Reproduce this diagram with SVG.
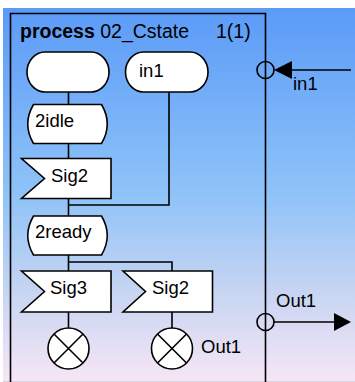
<svg xmlns="http://www.w3.org/2000/svg" width="355" height="382" viewBox="0 0 355 382">
<defs>
<linearGradient id="bg" x1="0" y1="0" x2="0" y2="1">
<stop offset="0" stop-color="#5b9bf8"/>
<stop offset="0.5" stop-color="#8fc3f8"/>
<stop offset="0.75" stop-color="#c5d4f2"/>
<stop offset="1" stop-color="#f7e6f5"/>
</linearGradient>
<style>
.s{fill:#fff;stroke:#000;stroke-width:1.6}
.l{fill:none;stroke:#000;stroke-width:1.6}
.t{font-family:"Liberation Sans",Arial,sans-serif;font-size:18.5px;fill:#000}
.h{font-size:19.5px}
.b{font-weight:bold}
.a{fill:#000;stroke:none}
</style>
</defs>
<rect x="0" y="0" width="355" height="382" fill="#fff"/>
<rect x="3" y="8" width="352" height="374" fill="url(#bg)"/>
<line x1="3" y1="381.5" x2="355" y2="381.5" stroke="#d4d4dc" stroke-width="1"/>
<g id="frame">
<path class="l" d="M10.5,382 V13.5 H265.5 V382"/>
<text class="t h" x="20" y="38"><tspan class="b">process</tspan> 02_Cstate</text>
<text class="t h" x="216" y="38">1(1)</text>
</g>
<g id="connectors">
<path class="l" d="M68.5,92 V104.5 M68.5,143.5 V158.5 M68.5,198.5 V216 M169,92 V205 H68.5 M68.5,255 V271 M68.5,262 H172 V271 M68.5,312 V328 M172,312 V328"/>
</g>
<g id="start">
<rect class="s" x="27" y="52" width="82" height="40" rx="18" ry="20"/>
</g>
<g id="in1_start">
<rect class="s" x="125.5" y="52" width="82.5" height="40" rx="18" ry="20"/>
<text class="t" x="139" y="77">in1</text>
</g>
<g id="state_2idle">
<path class="s" d="M33.5,104.5 H101.5 Q113,124 101.5,143.5 H33.5 Q22,124 33.5,104.5 Z"/>
<text class="t" x="35" y="127">2idle</text>
</g>
<g id="input_sig2_a">
<polygon class="s" points="21.5,158.5 111,158.5 111,198.5 21.5,198.5 44.5,178.5"/>
<text class="t" x="51" y="182">Sig2</text>
</g>
<g id="state_2ready">
<path class="s" d="M33.5,216 H101.5 Q113,235.5 101.5,255 H33.5 Q22,235.5 33.5,216 Z"/>
<text class="t" x="35" y="238">2ready</text>
</g>
<g id="input_sig3">
<polygon class="s" points="21.5,271 111,271 111,312 21.5,312 44.5,291.5"/>
<text class="t" x="50" y="294">Sig3</text>
</g>
<g id="input_sig2_b">
<polygon class="s" points="123,271 212.5,271 212.5,312 123,312 145.5,291.5"/>
<text class="t" x="152" y="294">Sig2</text>
</g>
<g id="output_a">
<circle class="s" cx="68.5" cy="348.5" r="20.5"/>
<path class="l" d="M54,334 L83,363 M83,334 L54,363"/>
</g>
<g id="output_b">
<circle class="s" cx="172" cy="348.5" r="20.5"/>
<path class="l" d="M157.5,334 L186.5,363 M186.5,334 L157.5,363"/>
<text class="t" x="201" y="353">Out1</text>
</g>
<g id="port_in1">
<circle class="l" cx="265.5" cy="70" r="8.5"/>
<line class="l" x1="290" y1="70" x2="351" y2="70"/>
<polygon class="a" points="274,70 292,61 292,79"/>
<text class="t" x="293" y="90">in1</text>
</g>
<g id="port_out1">
<circle class="l" cx="265.5" cy="322" r="8.5"/>
<line class="l" x1="274" y1="322" x2="336" y2="322"/>
<polygon class="a" points="334,313 351,322 334,331"/>
<text class="t" x="276" y="307">Out1</text>
</g>
</svg>
